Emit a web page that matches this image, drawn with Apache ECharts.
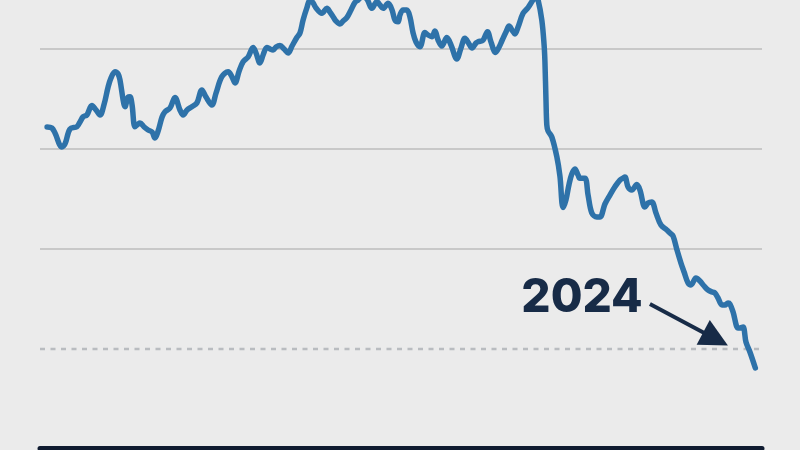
<!DOCTYPE html>
<html>
<head>
<meta charset="utf-8">
<script src="https://cdn.jsdelivr.net/npm/echarts@6/dist/echarts.min.js"></script>
<style>
html,body{margin:0;padding:0;background:#ebebeb;}
#chart{width:800px;height:450px;}
</style>
</head>
<body>
<div id="chart"></div>
<script>
// Time (decimal years) and index values
const years = [
1990.00,1990.23,1990.38,1990.71,1990.86,1991.10,1991.43,1991.58,1991.73,1991.91,
1992.15,1992.35,1992.54,1992.74,1992.93,1993.07,1993.26,1993.41,1993.50,1993.65,
1993.74,1993.89,1993.98,1994.08,1994.22,1994.37,1994.46,1994.66,1994.85,1995.04,
1995.18,1995.33,1995.52,1995.66,1995.90,1996.14,1996.38,1996.53,1996.72,1996.95,
1997.19,1997.43,1997.63,1997.91,1998.11,1998.39,1998.69,1998.88,1999.02,1999.22,
1999.41,1999.65,1999.89,2000.03,2000.22,2000.37,2000.55,2000.70,2000.85,2000.99,
2001.18,2001.38,2001.57,2001.76,2001.99,2002.14,2002.29,2002.47,2002.62,2002.77,
2002.91,2003.19,2003.43,2003.58,2003.73,2003.87,2004.06,2004.21,2004.39,2004.59,
2004.78,2004.93,2005.12,2005.35,2005.59,2005.83,2005.98,2006.13,2006.37,2006.56,
2006.70,2006.85,2006.94,2007.09,2007.27,2007.42,2007.57,2007.71,2007.90,2008.14,
2008.29,2008.47,2008.62,2008.77,2008.95,2009.19,2009.39,2009.67,2009.87,2010.06,
2010.26,2010.40,2010.59,2010.69,2010.93,2011.14,2011.31,2011.53,2011.70,2011.83,
2012.03,2012.18,2012.32,2012.46,2012.61,2012.85,2013.09,2013.33,2013.47,2013.57,
2013.75,2013.86,2013.90,2013.95,2013.99,2014.05,2014.23,2014.47,2014.62,2014.77,
2014.91,2015.06,2015.19,2015.34,2015.49,2015.58,2015.82,2015.97,2016.15,2016.39,
2016.54,2016.78,2017.02,2017.26,2017.50,2017.65,2017.74,2017.89,2018.07,2018.31,
2018.46,2018.70,2018.85,2019.03,2019.23,2019.47,2019.75,2019.90,2020.05,2020.24,
2020.43,2020.58,2020.77,2020.91,2021.15,2021.34,2021.54,2021.73,2021.92,2022.06,
2022.21,2022.40,2022.54,2022.69,2022.78,2022.93,2023.17,2023.26,2023.41,2023.55,
2023.74,2024.00
];
const values = [
3.219,3.209,3.159,3.019,3.049,3.199,3.222,3.269,3.322,3.339,
3.434,3.389,3.339,3.449,3.620,3.710,3.773,3.750,3.690,3.490,
3.422,3.519,3.522,3.439,3.222,3.249,3.259,3.219,3.189,3.169,
3.109,3.179,3.319,3.372,3.409,3.514,3.389,3.339,3.389,3.422,
3.459,3.590,3.519,3.439,3.559,3.723,3.773,3.720,3.660,3.780,
3.873,3.920,4.015,3.960,3.860,3.940,4.015,4.000,3.990,4.020,
4.035,4.000,3.960,4.030,4.115,4.160,4.290,4.411,4.491,4.461,
4.411,4.357,4.407,4.370,4.323,4.280,4.250,4.280,4.315,4.391,
4.466,4.491,4.521,4.501,4.407,4.474,4.441,4.407,4.458,4.391,
4.290,4.273,4.340,4.391,4.391,4.320,4.160,4.070,4.023,4.165,
4.140,4.123,4.180,4.090,4.030,4.115,4.040,3.900,4.010,4.107,
4.050,4.010,4.060,4.073,4.090,4.173,4.070,3.965,4.020,4.080,
4.170,4.230,4.190,4.150,4.220,4.357,4.415,4.491,4.521,4.491,
4.290,4.040,3.870,3.490,3.239,3.179,3.119,2.922,2.728,2.413,
2.491,2.648,2.748,2.798,2.738,2.705,2.705,2.538,2.358,2.318,
2.318,2.448,2.538,2.621,2.688,2.708,2.718,2.618,2.588,2.643,
2.588,2.418,2.458,2.468,2.358,2.238,2.188,2.158,2.128,1.987,
1.857,1.767,1.657,1.637,1.707,1.677,1.627,1.587,1.567,1.557,
1.507,1.437,1.437,1.457,1.447,1.367,1.206,1.206,1.216,1.066,
0.966,0.806
];
// Gridline levels
const solidGrid = [2, 3, 4];
const dashedGrid = [1];
// Annotation
const labelText = '2024';
const labelPos = [2015.68, 1.507];
const arrowFrom = [2018.94, 1.447];
const arrowTo = [2022.09, 1.097];

const chart = echarts.init(document.getElementById('chart'), null, {renderer: 'canvas'});

const gridLines = solidGrid.map(v => ({
  yAxis: v,
  lineStyle: {color: '#c8c8c8', width: 1.8, type: 'solid'}
})).concat(dashedGrid.map(v => ({
  yAxis: v,
  lineStyle: {color: '#b9bcc0', width: 2.4, type: [5, 5.5]}
})));

chart.setOption({
  backgroundColor: '#ebebeb',
  animation: false,
  grid: {left: 40, right: 38, top: 49, bottom: 1.5, containLabel: false},
  xAxis: {
    type: 'value',
    min: 1989.66,
    max: 2024.32,
    axisLine: {show: true, onZero: false, lineStyle: {color: '#0f1b30', width: 5}},
    axisTick: {show: false},
    axisLabel: {show: false},
    splitLine: {show: false}
  },
  yAxis: {
    type: 'value',
    min: 0,
    max: 4,
    interval: 1,
    axisLine: {show: false},
    axisTick: {show: false},
    axisLabel: {show: false},
    splitLine: {show: false}
  },
  series: [
    {
      type: 'line',
      data: [],
      silent: true,
      markLine: {
        silent: true,
        symbol: ['none', 'none'],
        label: {show: false},
        z: 1,
        data: gridLines
      }
    },
    {
      type: 'line',
      data: years.map((y, i) => [y, values[i]]),
      showSymbol: false,
      smooth: 0.35,
      clip: false,
      z: 3,
      lineStyle: {color: '#2e72a9', width: 5.5, cap: 'round', join: 'round'}
    },
    {
      type: 'line',
      data: [],
      silent: true,
      z: 5,
      markLine: {
        silent: true,
        label: {show: false},
        z: 6,
        lineStyle: {color: '#172b47', width: 4, type: 'solid'},
        data: [[
          {coord: arrowFrom, symbol: 'none'},
          {coord: arrowTo, symbol: 'triangle', symbolSize: [28, 28]}
        ]]
      },
      markPoint: {
        silent: true,
        symbol: 'circle',
        symbolSize: 0,
        z: 6,
        label: {
          show: true,
          position: 'inside',
          formatter: labelText,
          fontFamily: 'Inter',
          fontWeight: 800,
          fontSize: 46,
          color: '#172b47'
        },
        data: [{coord: labelPos}]
      }
    }
  ]
});
</script>
</body>
</html>
